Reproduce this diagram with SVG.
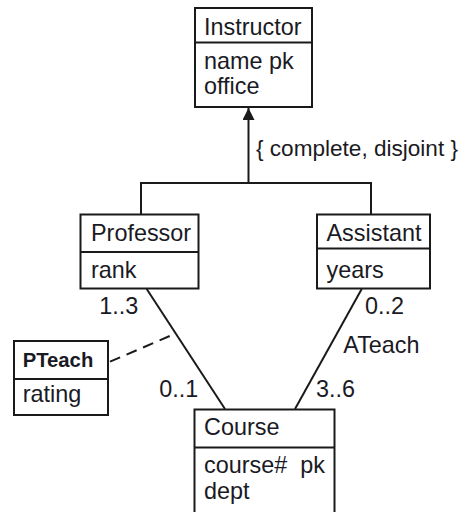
<svg xmlns="http://www.w3.org/2000/svg" width="462" height="512" viewBox="0 0 462 512">
<style>
  .box { fill: #fff; stroke: #1a1a1a; stroke-width: 2; }
  .div { stroke: #1a1a1a; stroke-width: 2; }
  .ln { stroke: #1a1a1a; stroke-width: 2; fill: none; }
  .dash { stroke: #1a1a1a; stroke-width: 2; fill: none; stroke-dasharray: 11 7; }
  text { font-family: "Liberation Sans", Arial, sans-serif; font-size: 23.4px; fill: #1a1a24; }
  .b { font-weight: bold; font-size: 21px; }
</style>
<defs>
  <marker id="tri" viewBox="0 0 12 12" refX="12" refY="6" markerWidth="12" markerHeight="12" markerUnits="userSpaceOnUse" orient="auto">
    <path d="M0,0 L12,6 L0,12 Z" fill="#1a1a1a"/>
  </marker>
</defs>
<g id="connectors">
  <polyline class="ln" points="141,214 141,183 371,183 371,214"/>
  <line class="ln" x1="248.5" y1="183" x2="248.5" y2="108" marker-end="url(#tri)"/>
  <line class="ln" x1="146.7" y1="289" x2="225" y2="409"/>
  <line class="ln" x1="361.7" y1="289" x2="295" y2="409"/>
  <line class="dash" x1="110" y1="361.7" x2="175.5" y2="333.5"/>
</g>
<g id="instructor">
  <rect class="box" x="195" y="8" width="117" height="99"/>
  <line class="div" x1="195" y1="42.5" x2="312" y2="42.5"/>
  <text x="204" y="35">Instructor</text>
  <text x="204" y="68.5">name pk</text>
  <text x="204" y="94">office</text>
</g>
<g id="generalization-label">
  <text x="256" y="156" textLength="202" lengthAdjust="spacingAndGlyphs" style="font-size:22.7px">{ complete, disjoint }</text>
</g>
<g id="professor">
  <rect class="box" x="80.5" y="214.5" width="118" height="74"/>
  <line class="div" x1="80.5" y1="252" x2="198.5" y2="252"/>
  <text x="91" y="240.5">Professor</text>
  <text x="91" y="277.5">rank</text>
</g>
<g id="assistant">
  <rect class="box" x="317" y="214.5" width="113" height="74"/>
  <line class="div" x1="317" y1="248.5" x2="430" y2="248.5"/>
  <text x="326.5" y="240.5">Assistant</text>
  <text x="326.5" y="277.5">years</text>
</g>
<g id="pteach">
  <rect class="box" x="14" y="341" width="94" height="74"/>
  <line class="div" x1="14" y1="379" x2="108" y2="379"/>
  <text class="b" x="22.7" y="367.3" textLength="70.6" lengthAdjust="spacingAndGlyphs">PTeach</text>
  <text x="22.7" y="402">rating</text>
</g>
<g id="course">
  <rect class="box" x="194.5" y="409.5" width="140" height="120"/>
  <line class="div" x1="194.5" y1="447.5" x2="334.5" y2="447.5"/>
  <text x="204" y="435">Course</text>
  <text x="204" y="472.5" xml:space="preserve">course#  pk</text>
  <text x="204" y="499">dept</text>
</g>
<g id="labels">
  <text x="99.3" y="314">1..3</text>
  <text x="365" y="314">0..2</text>
  <text x="343.3" y="353.3">ATeach</text>
  <text x="159.3" y="397.3">0..1</text>
  <text x="316" y="397.3">3..6</text>
</g>
</svg>
